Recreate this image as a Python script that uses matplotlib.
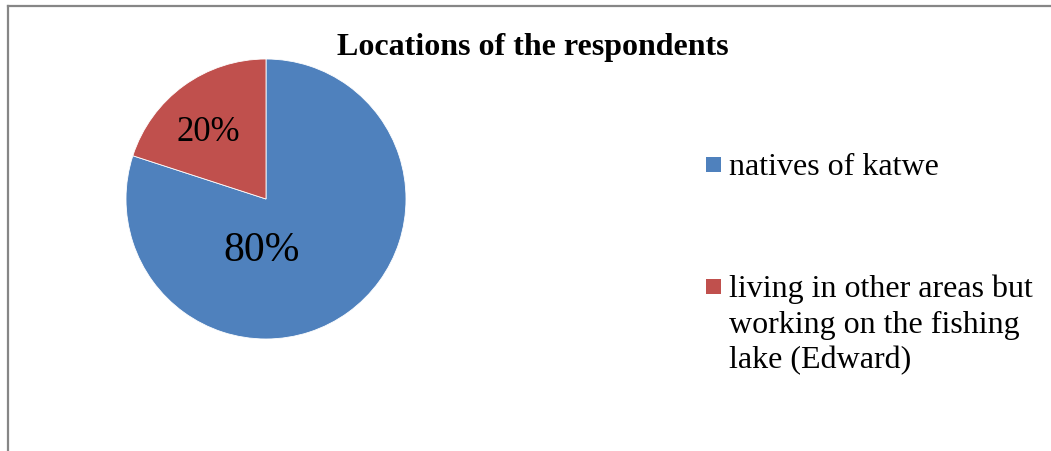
import matplotlib.pyplot as plt
from matplotlib.lines import Line2D
from matplotlib.patches import Rectangle

labels = ['natives of katwe',
          'living in other areas but\nworking on the fishing\nlake (Edward)']
values = [80, 20]
colors = ['#4F81BD', '#C0504D']
title = 'Locations of the respondents'

W, H = 1051, 452
fig = plt.figure(figsize=(W / 100, H / 100), dpi=100)
serif = ['Liberation Serif', 'DejaVu Serif']

# pie: centre (266, 200), radius 140 px
cx, cy, r = 266, 200, 140
ax = fig.add_axes([(cx - r) / W, (H - cy - r) / H, 2 * r / W, 2 * r / H])
wedges, _ = ax.pie(values, colors=colors, startangle=90, counterclock=False,
                   wedgeprops=dict(edgecolor='white', linewidth=0.6))
ax.set_xlim(-1, 1)
ax.set_ylim(-1, 1)
ax.set_aspect('equal')
ax.axis('off')

# percentage labels (positions inside the wedges, in axis data units)
lab_pos = [(-0.035, -0.36), (-0.415, 0.48)]
lab_size = [30, 25]
for v, (x, y), s in zip(values, lab_pos, lab_size):
    ax.text(x, y, f'{v}%', ha='center', va='center', fontsize=s,
            family=serif, color='black')

fig.text(533 / W, 1 - 47 / H, title, ha='center', va='center',
         fontsize=23, fontweight='bold', family=serif)

# legend
leg_y = [166, 288]
for lab, c, y in zip(labels, colors, leg_y):
    fig.patches.append(Rectangle((706 / W, 1 - (y + 7) / H), 15 / W, 15 / H,
                                 transform=fig.transFigure, facecolor=c,
                                 edgecolor='none'))
    fig.text(729 / W, 1 - (y - 13) / H, lab, ha='left', va='top',
             fontsize=23, family=serif, linespacing=1.28)

# chart frame (cut off on the right and bottom)
fig.add_artist(Line2D([7.5 / W, 7.5 / W], [0, 1 - 6.5 / H], color='#868686', lw=1.6))
fig.add_artist(Line2D([7.5 / W, 1], [1 - 6.5 / H, 1 - 6.5 / H], color='#868686', lw=1.6))

fig.savefig('out.png', dpi=100)
